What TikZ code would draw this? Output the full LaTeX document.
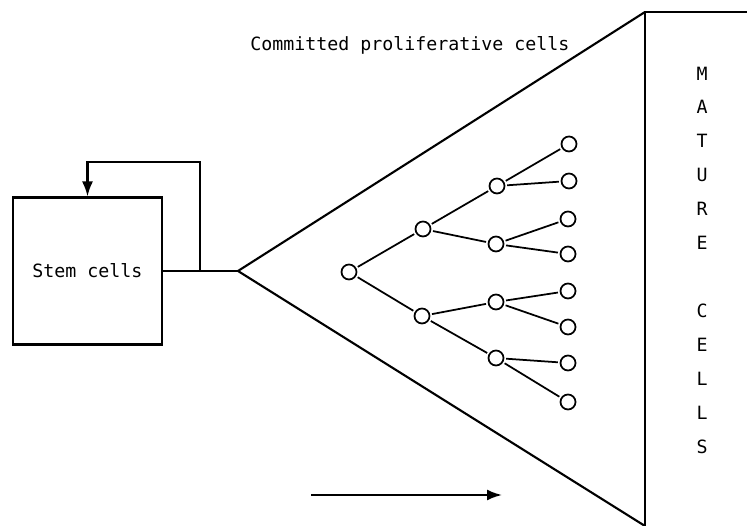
\documentclass[tikz,border=0pt]{standalone}
\usepackage{fontspec}
\setmonofont{DejaVu Sans Mono}
\usetikzlibrary{arrows.meta}

\tikzset{
	cell/.style={draw, circle, minimum size=0.3cm, inner sep=0pt, line width=1pt},
	branch/.style={line width=1pt, shorten <=1pt, shorten >=1pt},
	flow/.style={-{Latex[length=0.3cm, width=0.22cm]}},
}

\begin{document}
\begin{tikzpicture}[x=0.02cm, y=-0.02cm, line width=1.2pt, font=\ttfamily\fontsize{10.4}{12}\selectfont]
			\useasboundingbox (0,0) rectangle (747,526);
			% stem cell compartment and feedback
			\node [draw, minimum width=2.98cm, minimum height=2.94cm] (stem) at (87.5,271) {Stem cells};
			\coordinate (split) at (200,271);
			\coordinate (loop) at (87.5,162);
			\coordinate (apex) at (238,271);
			\draw [-] (stem.east) -- (apex);
			\draw [flow] (split) -- (split |- loop) -- (loop) -- (stem.north);
			% proliferative compartment
			\coordinate (top) at (645,12);
			\coordinate (bot) at (645,526);
			\coordinate (topright) at (747,12);
			\draw [-] (top) -- (apex) -- (bot);
			\draw [-] (topright) -- (top) -- (bot);
			\node (committed) at (410,45) {Committed proliferative cells};
			% dividing cells
			\node [cell] (c0) at (349,272) {};
			\node [cell] (c1) at (423,229) {};
			\node [cell] (c2) at (422,316) {};
			\node [cell] (c11) at (497,186) {};
			\node [cell] (c12) at (496,244) {};
			\node [cell] (c21) at (496,302) {};
			\node [cell] (c22) at (496,358) {};
			\node [cell] (c111) at (569,144) {};
			\node [cell] (c112) at (569,181) {};
			\node [cell] (c121) at (568,219) {};
			\node [cell] (c122) at (568,254) {};
			\node [cell] (c211) at (568,291) {};
			\node [cell] (c212) at (568,327) {};
			\node [cell] (c221) at (568,363) {};
			\node [cell] (c222) at (568,402) {};
			\draw [branch] (c0) -- (c1);
			\draw [branch] (c0) -- (c2);
			\draw [branch] (c1) -- (c11);
			\draw [branch] (c1) -- (c12);
			\draw [branch] (c2) -- (c21);
			\draw [branch] (c2) -- (c22);
			\draw [branch] (c11) -- (c111);
			\draw [branch] (c11) -- (c112);
			\draw [branch] (c12) -- (c121);
			\draw [branch] (c12) -- (c122);
			\draw [branch] (c21) -- (c211);
			\draw [branch] (c21) -- (c212);
			\draw [branch] (c22) -- (c221);
			\draw [branch] (c22) -- (c222);
			% mature cells
			\node [align=center, font=\ttfamily\fontsize{10.4}{19.3}\selectfont] (mature) at (702,260) {M\\A\\T\\U\\R\\E\\ \\C\\E\\L\\L\\S};
			% direction of maturation
			\coordinate (flowa) at (311,495);
			\coordinate (flowb) at (502,495);
			\draw [flow] (flowa) -- (flowb);
	\end{tikzpicture}
\end{document}
